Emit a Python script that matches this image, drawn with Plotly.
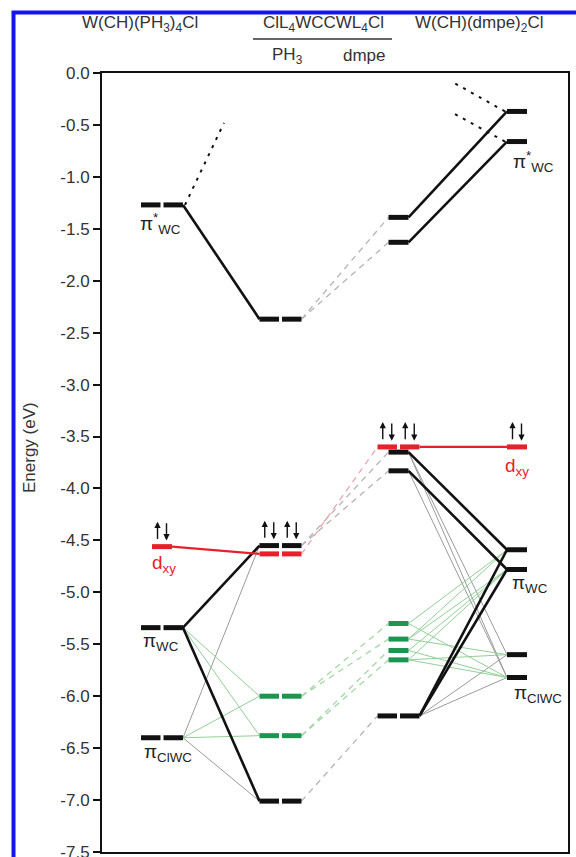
import plotly.graph_objects as go

# ---------------- orbital energies (eV) ----------------
# W(CH)(PH3)4Cl
mono_ph3_E = [-1.27, -4.56, -5.34, -6.40]
mono_ph3_kind = ["pair", "single", "pair", "pair"]
mono_ph3_tone = ["k", "r", "k", "k"]

# ClL4WCCWL4Cl with L = PH3
dimer_ph3_E = [-2.37, -4.55, -4.63, -6.00, -6.38, -7.01]
dimer_ph3_kind = ["pair", "pair", "pair", "pair", "pair", "pair"]
dimer_ph3_tone = ["k", "k", "r", "g", "g", "k"]

# ClL4WCCWL4Cl with L = dmpe
dimer_dmpe_E = [-1.39, -1.63, -3.65, -3.83, -3.60, -5.30, -5.45, -5.56, -5.65, -6.19]
dimer_dmpe_kind = ["single", "single", "single", "single", "pair",
                   "single", "single", "single", "single", "pair"]
dimer_dmpe_tone = ["k", "k", "k", "k", "r", "g", "g", "g", "g", "k"]

# W(CH)(dmpe)2Cl
mono_dmpe_E = [-0.37, -0.66, -3.60, -4.59, -4.78, -5.60, -5.82]
mono_dmpe_kind = ["single"] * 7
mono_dmpe_tone = ["k", "k", "r", "k", "k", "k", "k"]

# energy axis ticks
tick_values = [0.0, -0.5, -1.0, -1.5, -2.0, -2.5, -3.0, -3.5, -4.0, -4.5,
               -5.0, -5.5, -6.0, -6.5, -7.0, -7.5]
tick_labels = ["0.0", "-0.5", "-1.0", "-1.5", "-2.0", "-2.5", "-3.0", "-3.5",
               "-4.0", "-4.5", "-5.0", "-5.5", "-6.0", "-6.5", "-7.0", "-7.5"]

# doubly occupied levels (column, level index)
occupied = [("A", 1), ("B", 1), ("C", 4), ("D", 2)]

# correlation lines (from column, level, to column, level)
bond_black = [("A", 0, "B", 0), ("A", 2, "B", 1), ("A", 2, "B", 5),
              ("C", 0, "D", 0), ("C", 1, "D", 1), ("C", 2, "D", 3),
              ("C", 3, "D", 4), ("C", 9, "D", 3), ("C", 9, "D", 4)]
bond_red = [("A", 1, "B", 2), ("C", 4, "D", 2)]
mix_gray = [("A", 3, "B", 1), ("A", 3, "B", 5), ("C", 2, "D", 5), ("C", 2, "D", 6),
            ("C", 3, "D", 6), ("C", 9, "D", 5), ("C", 9, "D", 6)]
mix_green = [("A", 2, "B", 3), ("A", 2, "B", 4), ("A", 3, "B", 3), ("A", 3, "B", 4),
             ("C", 5, "D", 3), ("C", 6, "D", 3), ("C", 6, "D", 4), ("C", 7, "D", 4),
             ("C", 8, "D", 4), ("C", 5, "D", 6), ("C", 6, "D", 5), ("C", 7, "D", 6),
             ("C", 8, "D", 5), ("C", 8, "D", 6)]
corr_gray = [("B", 0, "C", 0), ("B", 0, "C", 1), ("B", 1, "C", 2), ("B", 1, "C", 3),
             ("B", 5, "C", 9)]
corr_red = [("B", 2, "C", 4)]
corr_green = [("B", 3, "C", 5), ("B", 3, "C", 6), ("B", 4, "C", 7), ("B", 4, "C", 8)]

# dotted stubs leaving the diagram: (column, level, horizontal reach, end energy)
stubs = [("A", 0, 39, -0.48), ("D", 0, -50, -0.10), ("D", 1, -54, -0.375)]

# level labels: (column, level, text, dx from column centre, dy in eV)
labels = [("A", 0, "π<sup>*</sup><sub>WC</sub>", -24, -0.18),
          ("A", 1, "d<sub>xy</sub>", -12, -0.17),
          ("A", 2, "π<sub>WC</sub>", -21, -0.14),
          ("A", 3, "π<sub>ClWC</sub>", -20, -0.15),
          ("D", 1, "π<sup>*</sup><sub>WC</sub>", -6, -0.19),
          ("D", 2, "d<sub>xy</sub>", -14, -0.19),
          ("D", 4, "π<sub>WC</sub>", -7, -0.14),
          ("D", 6, "π<sub>ClWC</sub>", -5, -0.16)]

# ---------------- layout geometry (horizontal axis in px) ----------------
W, H = 576, 857
ML, MR, MT, MB = 102, 8, 73, 5
X0, X1 = ML, W - MR
col_center = {"A": 162.0, "B": 280.5, "C": 398.5, "D": 517.0}
columns = {
    "A": (mono_ph3_E, mono_ph3_kind, mono_ph3_tone),
    "B": (dimer_ph3_E, dimer_ph3_kind, dimer_ph3_tone),
    "C": (dimer_dmpe_E, dimer_dmpe_kind, dimer_dmpe_tone),
    "D": (mono_dmpe_E, mono_dmpe_kind, mono_dmpe_tone),
}
tone_color = {"k": "#111111", "r": "#e5222b", "g": "#1a9650"}
FONT = "Liberation Sans, Arial, sans-serif"


def segments(col, i):
    c = col_center[col]
    if columns[col][1][i] == "pair":
        return [(c - 21, c - 1.5), (c + 1.5, c + 21)]
    return [(c - 10, c + 10)]


def left_end(col, i):
    return segments(col, i)[0][0]


def right_end(col, i):
    return segments(col, i)[-1][1]


def energy(col, i):
    return columns[col][0][i]


def px_x(p):
    return (p - X0) / (X1 - X0)


def px_y(p):
    return (H - MB - p) / (H - MB - MT)


fig = go.Figure()


def add_links(links, color, width, dash=None):
    xs, ys = [], []
    for a, i, b, j in links:
        xs += [right_end(a, i), left_end(b, j), None]
        ys += [energy(a, i), energy(b, j), None]
    fig.add_trace(go.Scatter(x=xs, y=ys, mode="lines", hoverinfo="skip",
                             line=dict(color=color, width=width, dash=dash)))


# thin mixing lines and dashed correlations
add_links(mix_gray, "#9a9a9a", 1)
add_links(mix_green, "#93cf98", 1)
add_links(corr_gray, "#b4b4b4", 1.3, "6px,5px")
add_links(corr_green, "#a6d6a8", 1.3, "6px,5px")
add_links(corr_red, "#f2a4ac", 1.3, "6px,5px")
# main correlation lines
add_links(bond_black, "#111111", 2.6)
add_links(bond_red, "#e5222b", 2.2)

# dotted stubs
xs, ys = [], []
for col, i, reach, e_end in stubs:
    x_start = right_end(col, i) + 2 if reach > 0 else left_end(col, i) - 2
    xs += [x_start, x_start + reach, None]
    ys += [energy(col, i), e_end, None]
fig.add_trace(go.Scatter(x=xs, y=ys, mode="lines", hoverinfo="skip",
                         line=dict(color="#111111", width=2, dash="3px,6px")))

# energy levels
for tone in ["k", "g", "r"]:
    xs, ys = [], []
    for col, (E, kind, tones) in columns.items():
        for i, e in enumerate(E):
            if tones[i] != tone:
                continue
            for a, b in segments(col, i):
                xs += [a, b, None]
                ys += [e, e, None]
    fig.add_trace(go.Scatter(x=xs, y=ys, mode="lines", hoverinfo="skip",
                             line=dict(color=tone_color[tone], width=5)))

annotations = []

# electron pairs
for col, i in occupied:
    e = energy(col, i)
    for a, b in segments(col, i):
        c = (a + b) / 2
        for dx, tail, head in [(-4.5, e + 0.06, e + 0.24), (4.5, e + 0.24, e + 0.06)]:
            annotations.append(dict(x=c + dx, y=head, ax=c + dx, ay=tail,
                                    xref="x", yref="y", axref="x", ayref="y",
                                    text="", showarrow=True, arrowhead=2,
                                    arrowsize=0.9, arrowwidth=1.4,
                                    arrowcolor="#111111", standoff=0,
                                    startstandoff=0))

# level labels
for col, i, txt, dx, dy in labels:
    red = columns[col][2][i] == "r"
    annotations.append(dict(x=col_center[col] + dx, y=energy(col, i) + dy,
                            xref="x", yref="y", text=txt, showarrow=False,
                            xanchor="left", yanchor="middle",
                            font=dict(family=FONT, size=19,
                                      color="#e5222b" if red else "#222222")))

# column headings
font_head = dict(family=FONT, size=17, color="#333333")
for txt, x, y in [("W(CH)(PH<sub>3</sub>)<sub>4</sub>Cl", 140, 24),
                  ("ClL<sub>4</sub>WCCWL<sub>4</sub>Cl", 323, 24),
                  ("PH<sub>3</sub>", 287, 56),
                  ("dmpe", 364, 56),
                  ("W(CH)(dmpe)<sub>2</sub>Cl", 479, 24)]:
    annotations.append(dict(x=px_x(x), y=px_y(y), xref="paper", yref="paper",
                            text=txt, showarrow=False, xanchor="center",
                            yanchor="middle", font=font_head))

# axis title
annotations.append(dict(x=px_x(29), y=px_y(448), xref="paper", yref="paper",
                        text="Energy (eV)", textangle=-90, showarrow=False,
                        xanchor="center", yanchor="middle",
                        font=dict(family=FONT, size=17, color="#333333")))

shapes = [
    # heading rule
    dict(type="line", xref="paper", yref="paper", x0=px_x(253), x1=px_x(392),
         y0=px_y(39), y1=px_y(39), line=dict(color="#333333", width=1.5)),
    # outer blue frame
    dict(type="rect", xref="paper", yref="paper", x0=px_x(13.5), x1=px_x(600),
         y0=px_y(880), y1=px_y(12.5), line=dict(color="#1414f0", width=4),
         layer="below"),
]

fig.update_layout(
    width=W, height=H,
    margin=dict(l=ML, r=MR, t=MT, b=MB, autoexpand=False),
    paper_bgcolor="white", plot_bgcolor="white",
    showlegend=False,
    font=dict(family=FONT, color="#333333"),
    annotations=annotations,
    shapes=shapes,
    xaxis=dict(range=[X0, X1], showgrid=False, zeroline=False, showticklabels=False,
               ticks="", showline=True, mirror=True, linecolor="#111111", linewidth=2,
               fixedrange=True, automargin=False),
    yaxis=dict(range=[-7.5, 0], tickmode="array", tickvals=tick_values,
               ticktext=tick_labels, ticklabeloverflow="allow", automargin=False,
               showgrid=False, zeroline=False, ticks="outside", ticklen=7,
               tickwidth=2, tickcolor="#111111", showline=True, mirror=True,
               linecolor="#111111", linewidth=2,
               tickfont=dict(family=FONT, size=17, color="#333333"), fixedrange=True),
)

fig.write_html("out.html")
